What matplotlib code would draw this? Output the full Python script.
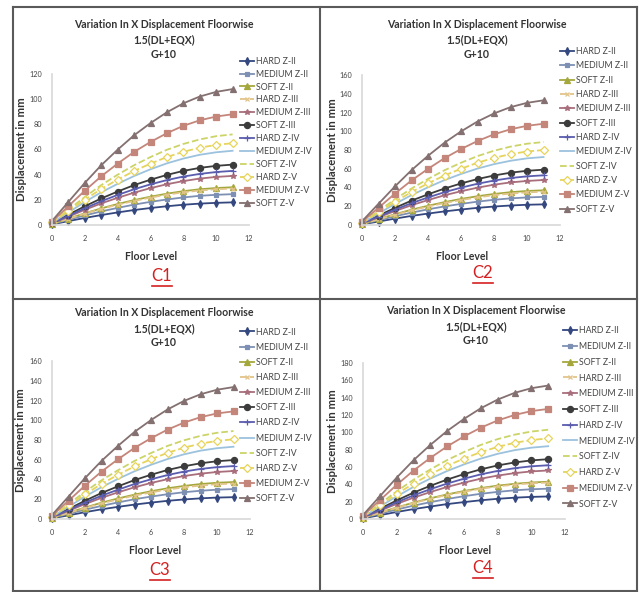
import matplotlib
matplotlib.use("Agg")
import matplotlib.pyplot as plt
from matplotlib.lines import Line2D

plt.rcParams['font.family'] = ['Lato', 'DejaVu Sans']

floors = list(range(12))
series_labels = ["HARD Z-II", "MEDIUM Z-II", "SOFT Z-II", "HARD Z-III", "MEDIUM Z-III",
                 "SOFT Z-III", "HARD Z-IV", "MEDIUM Z-IV", "SOFT Z-IV", "HARD Z-V",
                 "MEDIUM Z-V", "SOFT Z-V"]
x_ticks = [0, 2, 4, 6, 8, 10, 12]

c1_values = [
    [0.5, 3.1, 5.6, 7.9, 10.0, 11.9, 13.5, 14.9, 16.1, 17.0, 17.6, 18.0],
    [0.7, 4.2, 7.6, 10.8, 13.6, 16.2, 18.4, 20.3, 21.9, 23.2, 24.0, 24.5],
    [0.9, 5.1, 9.3, 13.2, 16.7, 19.8, 22.5, 24.9, 26.9, 28.4, 29.4, 30.0],
    [0.9, 4.9, 9.0, 12.8, 16.1, 19.1, 21.8, 24.1, 26.0, 27.4, 28.4, 29.0],
    [1.2, 6.6, 12.1, 17.2, 21.6, 25.7, 29.3, 32.4, 34.9, 36.9, 38.2, 39.0],
    [1.4, 8.2, 14.9, 21.1, 26.6, 31.7, 36.0, 39.8, 43.0, 45.4, 47.0, 48.0],
    [1.3, 7.3, 13.3, 18.9, 23.9, 28.4, 32.3, 35.7, 38.5, 40.6, 42.1, 43.0],
    [1.8, 10.0, 18.3, 26.0, 32.7, 38.9, 44.3, 49.0, 52.8, 55.8, 57.8, 59.0],
    [2.2, 12.2, 22.3, 31.7, 40.0, 47.5, 54.0, 59.8, 64.4, 68.0, 70.6, 72.0],
    [2.0, 11.1, 20.2, 28.6, 36.1, 42.9, 48.8, 54.0, 58.2, 61.4, 63.7, 65.0],
    [2.6, 15.0, 27.3, 38.7, 48.8, 58.1, 66.0, 73.0, 78.8, 83.2, 86.2, 88.0],
    [3.2, 18.4, 33.5, 47.5, 59.9, 71.3, 81.0, 89.6, 96.7, 102.1, 105.8, 108.0],
]
c2_values = [
    [0.7, 3.7, 6.8, 9.7, 12.2, 14.5, 16.5, 18.3, 19.7, 20.8, 21.6, 22.0],
    [0.9, 5.1, 9.3, 13.2, 16.7, 19.8, 22.5, 24.9, 26.9, 28.4, 29.4, 30.0],
    [1.1, 6.3, 11.5, 16.3, 20.5, 24.4, 27.8, 30.7, 33.1, 35.0, 36.3, 37.0],
    [1.1, 6.0, 11.0, 15.6, 19.7, 23.4, 26.6, 29.5, 31.8, 33.5, 34.8, 35.5],
    [1.4, 8.2, 14.9, 21.1, 26.6, 31.7, 36.0, 39.8, 43.0, 45.4, 47.0, 48.0],
    [1.8, 10.0, 18.3, 26.0, 32.7, 38.9, 44.3, 49.0, 52.8, 55.8, 57.8, 59.0],
    [1.6, 9.0, 16.4, 23.3, 29.4, 35.0, 39.8, 44.0, 47.4, 50.1, 51.9, 53.0],
    [2.2, 12.3, 22.5, 31.9, 40.2, 47.9, 54.4, 60.2, 64.9, 68.5, 71.1, 72.5],
    [2.7, 15.0, 27.4, 38.9, 49.1, 58.4, 66.4, 73.5, 79.2, 83.6, 86.7, 88.5],
    [2.4, 13.6, 24.8, 35.2, 44.4, 52.8, 60.0, 66.4, 71.6, 75.6, 78.4, 80.0],
    [3.2, 18.4, 33.5, 47.5, 59.9, 71.3, 81.0, 89.6, 96.7, 102.1, 105.8, 108.0],
    [4.0, 22.6, 41.2, 58.5, 73.8, 87.8, 99.8, 110.4, 119.0, 125.7, 130.3, 133.0],
]
c3_values = [
    [0.7, 3.7, 6.9, 9.8, 12.3, 14.6, 16.6, 18.4, 19.8, 20.9, 21.7, 22.1],
    [0.9, 5.2, 9.4, 13.3, 16.8, 20.0, 22.7, 25.1, 27.1, 28.6, 29.7, 30.3],
    [1.1, 6.4, 11.6, 16.5, 20.8, 24.7, 28.1, 31.1, 33.5, 35.4, 36.7, 37.4],
    [1.1, 6.1, 11.1, 15.8, 19.9, 23.7, 26.9, 29.8, 32.1, 33.9, 35.2, 35.9],
    [1.5, 8.3, 15.1, 21.4, 27.0, 32.1, 36.5, 40.3, 43.5, 45.9, 47.6, 48.6],
    [1.8, 10.1, 18.5, 26.3, 33.1, 39.4, 44.8, 49.6, 53.4, 56.4, 58.5, 59.7],
    [1.6, 9.1, 16.6, 23.6, 29.7, 35.4, 40.2, 44.5, 48.0, 50.7, 52.5, 53.6],
    [2.2, 12.4, 22.7, 32.2, 40.6, 48.3, 54.9, 60.7, 65.5, 69.2, 71.7, 73.2],
    [2.7, 15.1, 27.6, 39.2, 49.4, 58.8, 66.8, 74.0, 79.7, 84.2, 87.3, 89.1],
    [2.4, 13.7, 25.0, 35.5, 44.8, 53.3, 60.5, 67.0, 72.2, 76.3, 79.1, 80.7],
    [3.3, 18.5, 33.8, 48.0, 60.5, 72.0, 81.8, 90.5, 97.6, 103.1, 106.9, 109.0],
    [4.0, 22.7, 41.4, 58.8, 74.1, 88.2, 100.2, 110.9, 119.6, 126.3, 130.9, 133.6],
]
c4_values = [
    [0.8, 4.4, 8.1, 11.4, 14.4, 17.2, 19.5, 21.6, 23.3, 24.6, 25.5, 26.0],
    [1.1, 6.0, 10.9, 15.4, 19.4, 23.1, 26.3, 29.1, 31.3, 33.1, 34.3, 35.0],
    [1.3, 7.3, 13.3, 18.9, 23.9, 28.4, 32.3, 35.7, 38.5, 40.6, 42.1, 43.0],
    [1.3, 7.1, 13.0, 18.5, 23.3, 27.7, 31.5, 34.9, 37.6, 39.7, 41.2, 42.0],
    [1.7, 9.5, 17.4, 24.6, 31.1, 37.0, 42.0, 46.5, 50.1, 52.9, 54.9, 56.0],
    [2.1, 11.7, 21.4, 30.4, 38.3, 45.5, 51.8, 57.3, 61.8, 65.2, 67.6, 69.0],
    [1.9, 10.5, 19.2, 27.3, 34.4, 40.9, 46.5, 51.5, 55.5, 58.6, 60.8, 62.0],
    [2.5, 14.3, 26.0, 37.0, 46.6, 55.4, 63.0, 69.7, 75.2, 79.4, 82.3, 84.0],
    [3.1, 17.5, 31.9, 45.3, 57.2, 68.0, 77.3, 85.5, 92.2, 97.3, 100.9, 103.0],
    [2.8, 15.8, 28.8, 40.9, 51.6, 61.4, 69.8, 77.2, 83.2, 87.9, 91.1, 93.0],
    [3.8, 21.6, 39.4, 55.9, 70.5, 83.8, 95.3, 105.4, 113.7, 120.0, 124.5, 127.0],
    [4.6, 26.2, 47.7, 67.8, 85.5, 101.6, 115.5, 127.8, 137.8, 145.5, 150.9, 154.0],
]

c1_yticks = [0, 20, 40, 60, 80, 100, 120]
c2_yticks = [0, 20, 40, 60, 80, 100, 120, 140, 160]
c3_yticks = [0, 20, 40, 60, 80, 100, 120, 140, 160]
c4_yticks = [0, 20, 40, 60, 80, 100, 120, 140, 160, 180]
panel_names = ["C1", "C2", "C3", "C4"]

# styles: color, marker, markersize, linestyle, marker face
styles = [
    ("#34477f", "d", 4.0, "-", None),
    ("#7d90b4", "s", 3.0, "-", None),
    ("#a4a83c", "^", 4.0, "-", None),
    ("#e2c48a", "x", 3.2, "--", None),
    ("#a86e7c", "*", 3.8, "-", None),
    ("#3c3c3c", "o", 4.4, "-", None),
    ("#5a5cae", "+", 3.8, "-", None),
    ("#9cc2de", "", 0, "-", None),
    ("#ccd468", "", 0, "--", None),
    ("#e6d45c", "D", 3.6, "--", "white"),
    ("#c4857a", "s", 5.0, "-", None),
    ("#847070", "^", 5.0, "-", None),
]

W, H = 640, 592
fig = plt.figure(figsize=(W / 100, H / 100), dpi=100)


def fx(x):
    return x / W


def fy(y):
    return 1 - y / H


panels = [
    dict(vals=c1_values, yt=c1_yticks, ax=(52, 249, 225, 74), tx=164, ty=24,
         lx=240, ly=62, ls=12.7, ylx=22, flx=151, fly=257, cx=162, cy=276),
    dict(vals=c2_values, yt=c2_yticks, ax=(362, 560, 225, 75), tx=477, ty=24,
         lx=560, ly=53, ls=14.1, ylx=333, flx=462, fly=256, cx=483, cy=273),
    dict(vals=c3_values, yt=c3_yticks, ax=(52, 250, 519, 361), tx=164, ty=313,
         lx=240, ly=334, ls=14.9, ylx=21, flx=155, fly=550, cx=160, cy=570),
    dict(vals=c4_values, yt=c4_yticks, ax=(363, 565, 519, 363), tx=476, ty=311,
         lx=563, ly=333, ls=15.5, ylx=333, flx=465, fly=550, cx=483, cy=568),
]

for p, name in zip(panels, panel_names):
    x0, x12, y0, ytop = p["ax"]
    ymax = p["yt"][-1]
    ax = fig.add_axes([fx(x0), fy(y0), (x12 - x0) / W, (y0 - ytop) / H])
    for vals, lab, (col, mk, ms, ls, mfc) in zip(p["vals"], series_labels, styles):
        ax.plot(floors, vals, color=col, marker=mk if mk else None, markersize=ms,
                linestyle=ls, linewidth=1.3, label=lab, clip_on=False,
                markerfacecolor=mfc if mfc else col, markeredgecolor=col,
                markeredgewidth=0.9)
    ax.set_xlim(0, 12)
    ax.set_ylim(0, ymax)
    ax.set_xticks(x_ticks)
    ax.set_yticks(p["yt"])
    for s in ["top", "right"]:
        ax.spines[s].set_visible(False)
    for s in ["left", "bottom"]:
        ax.spines[s].set_color("#d8d8d8")
        ax.spines[s].set_linewidth(1.2)
    ax.tick_params(length=0, labelsize=5.2, labelcolor="#444444", pad=7)
    ax.patch.set_alpha(0)

    tkw = dict(ha="center", va="center", fontsize=7.6, fontweight="bold", color="#333333")
    fig.text(fx(p["tx"]), fy(p["ty"]), "Variation In X Displacement Floorwise", **tkw)
    fig.text(fx(p["tx"]), fy(p["ty"] + 16), "1.5(DL+EQX)", **tkw)
    fig.text(fx(p["tx"]), fy(p["ty"] + 30), "G+10", **tkw)
    fig.text(fx(p["ylx"]), fy((y0 + ytop) / 2), "Displacement in mm", rotation=90,
             ha="center", va="center", fontsize=8.2, fontweight="bold", color="#333333")
    fig.text(fx(p["flx"]), fy(p["fly"]), "Floor Level", ha="center", va="center",
             fontsize=7.6, fontweight="bold", color="#333333")
    fig.text(fx(p["cx"]), fy(p["cy"]), name, ha="center", va="center",
             fontsize=12, color="#d42020")
    fig.add_artist(Line2D([fx(p["cx"] - 10), fx(p["cx"] + 10)],
                          [fy(p["cy"] + 10), fy(p["cy"] + 10)],
                          color="#d42020", linewidth=1.2))

    fs = 6.3
    fs_px = fs * 100 / 72
    leg = ax.legend(loc="upper left",
                    bbox_to_anchor=(fx(p["lx"]), fy(p["ly"] - p["ls"] / 2 + 1.0)),
                    bbox_transform=fig.transFigure, frameon=False, fontsize=fs,
                    handlelength=1.6, handletextpad=0.2, borderpad=0, borderaxespad=0,
                    labelspacing=(p["ls"] - fs_px) / fs_px)
    for txt in leg.get_texts():
        txt.set_color("#444444")

bc = "#5a5a5a"
for xx in [13, 320, 637]:
    fig.add_artist(Line2D([fx(xx), fx(xx)], [fy(7), fy(591)], color=bc, linewidth=1.5))
for yy in [7, 299, 591]:
    fig.add_artist(Line2D([fx(13), fx(637)], [fy(yy), fy(yy)], color=bc, linewidth=1.5))

fig.savefig("out.png", dpi=100)
